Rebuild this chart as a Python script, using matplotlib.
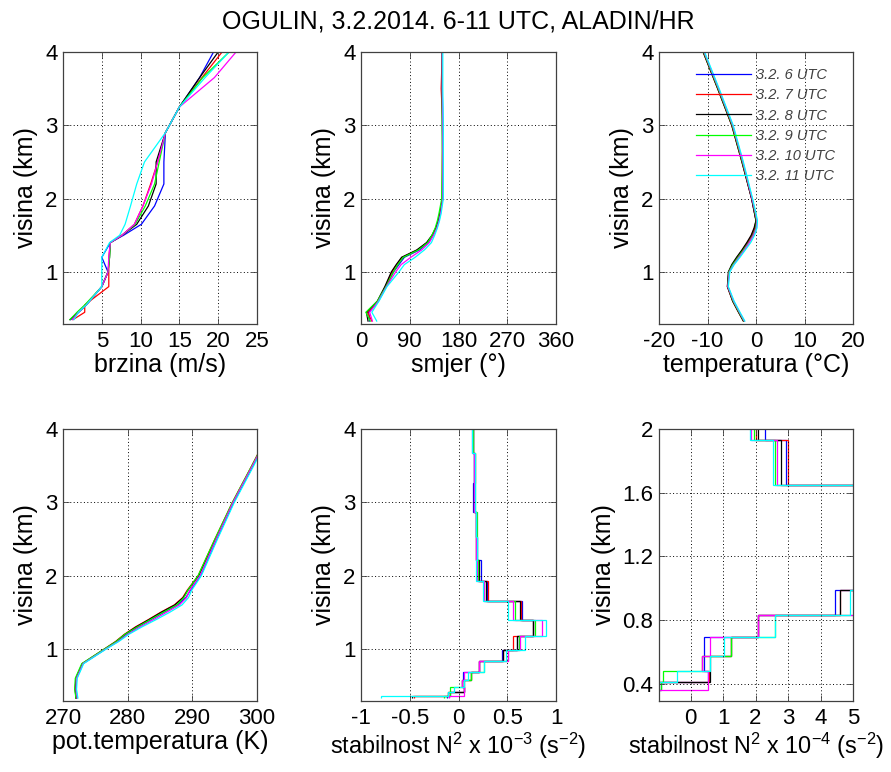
import matplotlib
matplotlib.use('Agg')
import matplotlib.pyplot as plt

plt.rcParams['font.family'] = 'Liberation Sans'
plt.rcParams['mathtext.fontset'] = 'custom'
plt.rcParams['mathtext.rm'] = 'Liberation Sans'
plt.rcParams['mathtext.it'] = 'Liberation Sans:italic'
plt.rcParams['mathtext.default'] = 'regular'
plt.rcParams['axes.unicode_minus'] = False

# runs (3.2.2014, ALADIN/HR, Ogulin)
termini = ['3.2. 6 UTC', '3.2. 7 UTC', '3.2. 8 UTC', '3.2. 9 UTC', '3.2. 10 UTC', '3.2. 11 UTC']

# wind speed (m/s)
h_vjetar = [0.35, 0.45, 0.55, 0.8, 1.0, 1.2, 1.4, 1.5, 1.65, 1.9, 2.2, 2.5, 2.9, 3.25, 3.65, 4.0]
brzina = [
    [1.0, 2.0, 3.0, 5.0, 5.8, 5.0, 6.1, 7.8, 10.1, 11.8, 13.0, 13.0, 13.2, 15.0, 17.6, 19.4],
    [1.3, 2.8, 2.8, 5.9, 5.9, 5.9, 6.1, 7.6, 9.2, 10.3, 11.3, 12.2, 13.2, 15.0, 17.9, 20.5],
    [0.9, 2.0, 3.0, 5.0, 5.8, 6.0, 6.1, 7.6, 9.5, 11.0, 12.0, 12.0, 13.2, 15.0, 17.6, 20.0],
    [0.9, 1.8, 2.8, 5.0, 5.8, 6.0, 6.1, 7.6, 9.3, 10.6, 11.8, 12.4, 13.2, 15.0, 18.0, 21.4],
    [1.2, 2.0, 3.0, 5.0, 5.8, 5.9, 6.1, 7.6, 9.2, 10.3, 11.4, 12.2, 13.2, 15.0, 19.5, 22.3],
    [1.4, 2.0, 3.0, 5.0, 5.0, 5.0, 6.0, 7.3, 8.0, 8.7, 9.5, 10.5, 13.2, 15.0, 18.3, 21.4],
]

# direction, temperature, potential temperature on the same heights
h_prof = [0.33, 0.45, 0.6, 0.8, 1.0, 1.1, 1.2, 1.3, 1.4, 1.5, 1.6, 1.7, 1.8, 2.0, 2.5, 3.0, 3.5, 4.0]
smjer = [
    [16, 14, 32, 46, 60, 70, 80, 108, 124, 133, 139, 143, 146, 150, 151, 151, 150, 150],
    [20, 12, 31, 45, 57, 66, 76, 104, 122, 132, 139, 143, 146, 150, 150, 151, 148, 150],
    [13, 10, 30, 44, 56, 65, 75, 103, 121, 131, 138, 143, 146, 151, 151, 150, 150, 150],
    [17, 9, 30, 46, 60, 68, 78, 106, 123, 131, 137, 141, 144, 149, 150, 150, 150, 150],
    [21, 16, 32, 47, 64, 74, 92, 112, 126, 134, 140, 144, 147, 151, 151, 151, 150, 150],
    [29, 20, 33, 48, 70, 80, 100, 117, 130, 136, 141, 145, 148, 152, 152, 152, 151, 151],
]
temperatura = [
    [-2.5, -3.5, -4.7, -5.8, -5.6, -4.8, -3.8, -2.7, -1.7, -0.8, -0.2, 0.0, -0.3, -0.9, -2.8, -4.9, -7.8, -10.8],
    [-2.6, -3.6, -4.8, -5.9, -5.6, -4.9, -3.9, -2.8, -1.8, -0.9, -0.3, 0.0, -0.3, -0.9, -2.9, -5.0, -7.9, -10.9],
    [-2.6, -3.6, -4.8, -5.9, -5.7, -5.0, -4.0, -2.9, -1.9, -1.0, -0.4, 0.0, -0.3, -0.9, -2.9, -5.0, -7.9, -10.9],
    [-2.5, -3.5, -4.7, -5.8, -5.6, -4.8, -3.7, -2.6, -1.5, -0.6, 0.0, 0.1, -0.2, -0.8, -2.8, -4.9, -7.8, -10.8],
    [-2.4, -3.4, -4.6, -5.8, -5.5, -4.6, -3.5, -2.4, -1.4, -0.5, 0.1, 0.2, -0.1, -0.8, -2.7, -4.8, -7.7, -10.7],
    [-2.3, -3.3, -4.5, -5.7, -5.4, -4.5, -3.3, -2.2, -1.1, -0.3, 0.2, 0.3, 0.0, -0.7, -2.6, -4.7, -7.6, -10.6],
]
pot_temp = [
    [272.1, 272.0, 272.1, 273.1, 276.6, 278.4, 279.8, 281.6, 283.6, 285.6, 287.7, 289.0, 289.7, 291.3, 293.8, 296.4, 299.4, 302.3],
    [272.0, 271.9, 272.0, 273.0, 276.4, 278.1, 279.5, 281.2, 283.2, 285.1, 287.2, 288.5, 289.2, 290.9, 293.5, 296.2, 299.2, 302.1],
    [272.0, 271.9, 272.0, 273.0, 276.5, 278.2, 279.6, 281.3, 283.3, 285.2, 287.3, 288.6, 289.3, 291.0, 293.6, 296.3, 299.3, 302.2],
    [272.0, 271.8, 271.9, 272.9, 276.4, 278.2, 279.6, 281.5, 283.5, 285.5, 287.6, 288.7, 289.3, 290.9, 293.5, 296.2, 299.2, 302.2],
    [272.2, 272.0, 272.1, 273.1, 276.6, 278.5, 280.0, 281.9, 284.0, 286.0, 288.0, 289.1, 289.6, 291.2, 293.7, 296.3, 299.3, 302.2],
    [272.3, 272.1, 272.2, 273.2, 276.7, 278.6, 280.2, 282.2, 284.4, 286.5, 288.4, 289.4, 289.9, 291.4, 293.9, 296.5, 299.5, 302.3],
]

# stability N^2 (x 1e-4 s^-2), constant between model levels
nivoi = [0.33, 0.36, 0.41, 0.48, 0.57, 0.69, 0.83, 0.99, 1.17, 1.40, 1.65, 1.93, 2.22, 2.53, 2.87, 3.26, 3.67, 4.1]
n2 = [
    [-1.2, -0.9, 0.55, 0.40, 0.42, 2.08, 4.45, 6.0, 7.6, 6.5, 2.95, 2.30, 1.85, 1.75, 1.45, 1.60, 1.45],
    [-4.6, -1.1, 0.58, 0.34, 1.26, 2.08, 4.60, 5.6, 7.6, 6.4, 3.00, 2.00, 1.80, 1.75, 1.60, 1.65, 1.45],
    [-4.8, -1.1, 0.60, 0.59, 1.26, 2.08, 4.60, 6.0, 7.6, 6.3, 2.78, 2.08, 1.80, 1.75, 1.60, 1.60, 1.45],
    [-1.5, -0.9, -0.84, 0.34, 1.26, 2.60, 5.10, 6.2, 7.8, 5.8, 2.60, 1.95, 1.90, 1.85, 1.65, 1.65, 1.50],
    [-1.0, 0.54, 0.55, 0.34, 0.59, 2.08, 5.05, 6.3, 8.55, 5.6, 2.65, 1.85, 1.80, 1.75, 1.60, 1.60, 1.40],
    [-8.0, -1.1, -0.43, 0.59, 1.02, 2.60, 4.90, 6.8, 9.0, 5.05, 2.54, 1.82, 1.85, 1.80, 1.70, 1.70, 1.40],
]

boje = ['#0000ff', '#ff0000', '#000000', '#00ff00', '#ff00ff', '#00ffff']

W, H = 891, 772


def box(x0, x1, y0, y1):
    return [x0 / W, 1 - y1 / H, (x1 - x0) / W, (y1 - y0) / H]


def style(ax, xlabel, xsize=18):
    ax.grid(True, color='k', linestyle=(0, (1, 2.5)), linewidth=0.7)
    ax.tick_params(direction='in', length=4, width=0.6, top=True, right=True,
                   labelsize=16, color='#404040')
    ax.tick_params(axis='x', pad=5)
    ax.tick_params(axis='y', pad=4)
    for s in ax.spines.values():
        s.set_color('#404040')
        s.set_linewidth(0.9)
    ax.set_xlabel(xlabel, fontsize=xsize, labelpad=1)
    ax.set_ylabel('visina (km)', fontsize=18, labelpad=5)


fig = plt.figure(figsize=(W / 100, H / 100), dpi=100)

cols = [(63, 257), (361, 556), (659, 853)]
ax1 = fig.add_axes(box(*cols[0], 52, 324))
ax2 = fig.add_axes(box(*cols[1], 52, 324))
ax3 = fig.add_axes(box(*cols[2], 52, 324))
ax4 = fig.add_axes(box(*cols[0], 429, 701))
ax5 = fig.add_axes(box(*cols[1], 429, 701))
ax6 = fig.add_axes(box(*cols[2], 429, 701))

for i in range(6):
    c = boje[i]
    ax1.plot(brzina[i], h_vjetar, color=c, lw=0.9)
    ax2.plot(smjer[i], h_prof, color=c, lw=0.9)
    ax3.plot(temperatura[i], h_prof, color=c, lw=0.9, label=termini[i])
    ax4.plot(pot_temp[i], h_prof, color=c, lw=0.9)
    ax5.stairs([v / 10 for v in n2[i]], nivoi, orientation='horizontal',
               baseline=None, color=c, lw=0.9)
    ax6.stairs(n2[i], nivoi, orientation='horizontal', baseline=None, color=c, lw=0.9)

ax1.set_xlim(0, 25)
ax1.set_xticks([5, 10, 15, 20, 25])
ax2.set_xlim(0, 360)
ax2.set_xticks([0, 90, 180, 270, 360])
ax3.set_xlim(-20, 20)
ax3.set_xticks([-20, -10, 0, 10, 20])
ax4.set_xlim(270, 300)
ax4.set_xticks([270, 280, 290, 300])
ax5.set_xlim(-1, 1)
ax5.set_xticks([-1, -0.5, 0, 0.5, 1])
ax5.set_xticklabels(['-1', '-0.5', '0', '0.5', '1'])
ax6.set_xlim(-0.97, 5)
ax6.set_xticks([0, 1, 2, 3, 4, 5])

for ax in (ax1, ax2, ax3, ax4, ax5):
    ax.set_ylim(0.29, 4)
    ax.set_yticks([1, 2, 3, 4])
ax6.set_ylim(0.29, 2)
ax6.set_yticks([0.4, 0.8, 1.2, 1.6, 2])
ax6.set_yticklabels(['0.4', '0.8', '1.2', '1.6', '2'])

style(ax1, 'brzina (m/s)')
style(ax2, 'smjer (°)')
style(ax3, 'temperatura (°C)')
style(ax4, 'pot.temperatura (K)')
style(ax5, r'stabilnost N$^2$ x 10$^{-3}$ (s$^{-2}$)', xsize=16.8)
style(ax6, r'stabilnost N$^2$ x 10$^{-4}$ (s$^{-2}$)', xsize=16.8)

leg = ax3.legend(loc='upper left', bbox_to_anchor=(0.19, 0.94), frameon=False,
                 borderpad=0, borderaxespad=0, handlelength=3.8, handletextpad=0.35,
                 labelspacing=0.42, prop={'style': 'italic', 'size': 10.5})
for t in leg.get_texts():
    t.set_color('#404040')

fig.text(458 / W, 1 - 29 / H, 'OGULIN, 3.2.2014. 6-11 UTC, ALADIN/HR',
         ha='center', va='baseline', fontsize=18)

fig.savefig('out.png', dpi=100)
